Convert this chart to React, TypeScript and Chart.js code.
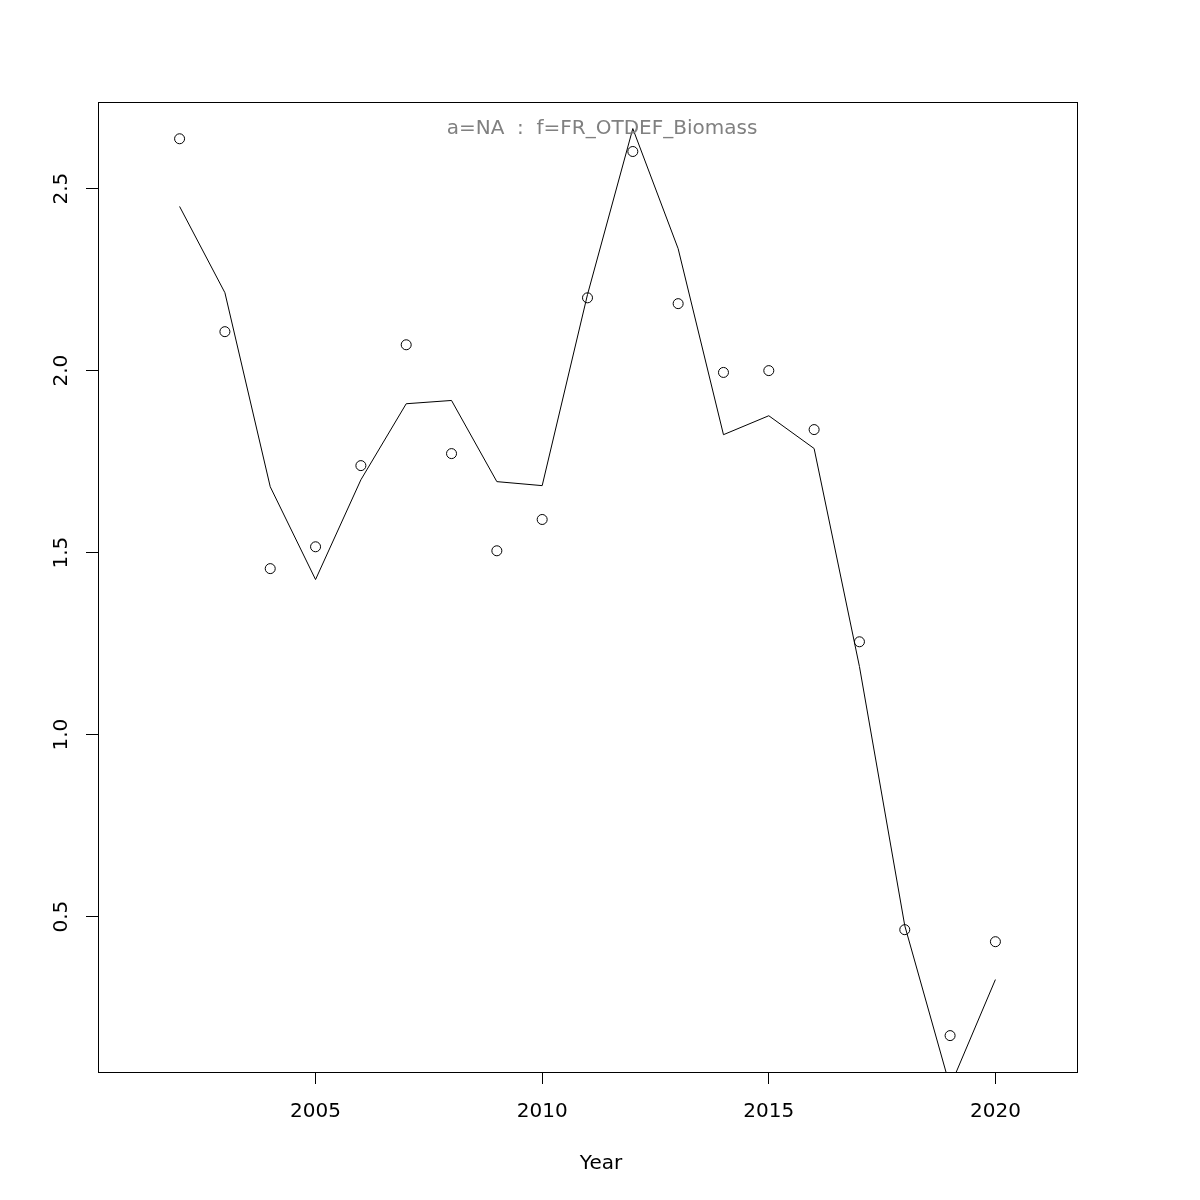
import React, { useEffect, useRef } from "react";
import { Chart, registerables } from "chart.js";

Chart.register(...registerables);

const years = [2002, 2003, 2004, 2005, 2006, 2007, 2008, 2009, 2010, 2011, 2012, 2013, 2014, 2015, 2016, 2017, 2018, 2019, 2020];
const observed = [2.637, 2.107, 1.456, 1.516, 1.739, 2.071, 1.772, 1.505, 1.591, 2.2, 2.602, 2.184, 1.995, 2.0, 1.838, 1.255, 0.464, 0.173, 0.431];
const fitted = [2.451, 2.214, 1.681, 1.426, 1.7, 1.909, 1.918, 1.695, 1.684, 2.209, 2.665, 2.335, 1.824, 1.876, 1.786, 1.187, 0.475, 0.033, 0.327];
const xTicks = [2005, 2010, 2015, 2020];
const yTicks = [0.5, 1.0, 1.5, 2.0, 2.5];
const plotTitle = "a=NA  :  f=FR_OTDEF_Biomass";
const xLabel = "Year";

const FONT = "'DejaVu Sans', sans-serif";

export default function App() {
  const ref = useRef<HTMLCanvasElement | null>(null);

  useEffect(() => {
    if (!ref.current) return;
    const boxPlugin = {
      id: "boxAndTitle",
      afterDraw(chart: any) {
        const { ctx, chartArea } = chart;
        ctx.save();
        ctx.strokeStyle = "#000";
        ctx.lineWidth = 1;
        ctx.strokeRect(
          Math.round(chartArea.left) + 0.5,
          Math.round(chartArea.top) + 0.5,
          Math.round(chartArea.right - chartArea.left),
          Math.round(chartArea.bottom - chartArea.top)
        );
        ctx.font = `20px ${FONT}`;
        ctx.textAlign = "center";
        ctx.textBaseline = "middle";
        ctx.fillStyle = "#808080";
        ctx.fillText(plotTitle, 602, chartArea.top + 27);
        ctx.fillStyle = "#000";
        ctx.fillText(xLabel, 601, 1163.5);
        ctx.restore();
      },
    };

    const chart = new Chart(ref.current, {
      type: "line",
      data: {
        datasets: [
          {
            label: "fitted",
            data: years.map((x, i) => ({ x, y: fitted[i] })),
            borderColor: "#000",
            borderWidth: 1,
            pointRadius: 0,
            tension: 0,
            fill: false,
          },
          {
            label: "observed",
            data: years.map((x, i) => ({ x, y: observed[i] })),
            showLine: false,
            pointRadius: 5,
            pointBorderColor: "#000",
            pointBackgroundColor: "rgba(0,0,0,0)",
            pointBorderWidth: 1,
          },
        ],
      },
      options: {
        animation: false,
        responsive: false,
        devicePixelRatio: 1,
        layout: { padding: { top: 102, right: 123, left: 0, bottom: 0 } },
        plugins: {
          legend: { display: false },
          tooltip: { enabled: false },
          title: { display: false },
        },
        scales: {
          x: {
            type: "linear",
            min: 2000.2,
            max: 2021.8,
            afterBuildTicks: (scale: any) => {
              scale.ticks = xTicks.map((v) => ({ value: v }));
            },
            afterFit: (scale: any) => {
              scale.height = 128;
            },
            grid: {
              display: true,
              drawOnChartArea: false,
              drawTicks: true,
              tickLength: 12,
              color: "#000",
              lineWidth: 1,
            },
            border: { display: false },
            ticks: {
              color: "#000",
              font: { family: FONT, size: 20 },
              padding: 16,
              maxRotation: 0,
              minRotation: 0,
              callback: (v: any) => String(v),
            },
            title: { display: false },
          },
          y: {
            type: "linear",
            min: 0.073,
            max: 2.738,
            afterBuildTicks: (scale: any) => {
              scale.ticks = yTicks.map((v) => ({ value: v }));
            },
            afterFit: (scale: any) => {
              scale.width = 98;
            },
            grid: {
              display: true,
              drawOnChartArea: false,
              drawTicks: true,
              tickLength: 12,
              color: "#000",
              lineWidth: 1,
            },
            border: { display: false },
            ticks: {
              color: "#000",
              font: { family: FONT, size: 20 },
              padding: 8,
              minRotation: 90,
              maxRotation: 90,
              crossAlign: "center",
              callback: (v: any) => Number(v).toFixed(1),
            },
          },
        },
      },
      plugins: [boxPlugin],
    } as any);

    return () => chart.destroy();
  }, []);

  return (
    <div style={{ position: "absolute", left: 0, top: 0, width: 1200, height: 1200, background: "#fff" }}>
      <canvas ref={ref} width={1200} height={1200} />
    </div>
  );
}
